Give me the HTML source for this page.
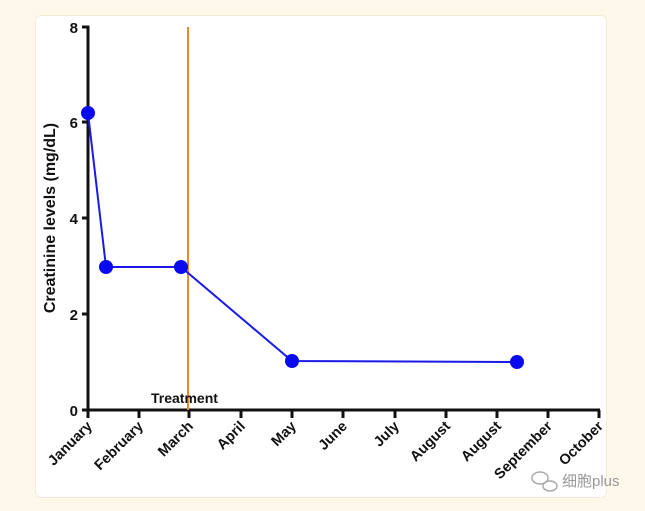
<!DOCTYPE html>
<html><head><style>
html,body{margin:0;padding:0;background:#fdf8ea;}
.card{position:absolute;left:35px;top:15px;width:570px;height:481px;background:#fff;border-radius:6px;border:1px solid #f5ecd8;}
svg{position:absolute;left:0;top:0;}
text{font-family:"Liberation Sans",Arial,sans-serif;font-weight:bold;fill:#111;}
</style></head><body>
<div class="card"></div>
<svg width="645" height="511" viewBox="0 0 645 511">
<g stroke="#111" stroke-width="3" fill="none">
<path d="M82 27H88V410H600"/>
<path d="M82 122H88M82 218H88M82 314H88M82 410H88"/>
<path d="M88 410v8M139 410v8M189 410v8M241 410v8M292 410v8M343 410v8M395 410v8M446 410v8M497 410v8M548 410v8M599 410v8"/>
</g>
<g font-size="15" text-anchor="end">
<text x="78" y="33">8</text><text x="78" y="128">6</text><text x="78" y="224">4</text><text x="78" y="320">2</text><text x="78" y="416">0</text>
</g>
<text transform="translate(55,218) rotate(-90)" font-size="16" text-anchor="middle">Creatinine levels (mg/dL)</text>
<line x1="188" y1="27" x2="188" y2="410" stroke="#e8892a" stroke-width="2"/>
<text x="151" y="403" font-size="14">Treatment</text>
<g font-size="14.5" text-anchor="end">
<text transform="translate(93,427) rotate(-45)">January</text>
<text transform="translate(144,427) rotate(-45)">February</text>
<text transform="translate(194,427) rotate(-45)">March</text>
<text transform="translate(246,427) rotate(-45)">April</text>
<text transform="translate(297,427) rotate(-45)">May</text>
<text transform="translate(348,427) rotate(-45)">June</text>
<text transform="translate(400,427) rotate(-45)">July</text>
<text transform="translate(451,427) rotate(-45)">August</text>
<text transform="translate(502,427) rotate(-45)">August</text>
<text transform="translate(553,427) rotate(-45)">September</text>
<text transform="translate(604,427) rotate(-45)">October</text>
</g>
<polyline points="88,113 106,267 181,267 292,361 517,362" fill="none" stroke="#1a1ae6" stroke-width="2"/>
<g fill="#0a0af0">
<circle cx="88" cy="113" r="7"/><circle cx="106" cy="267" r="7"/><circle cx="181" cy="267" r="7"/><circle cx="292" cy="361" r="7"/><circle cx="517" cy="362" r="7"/>
</g>
<g fill="none" stroke="#aaa" stroke-width="1.5">
<ellipse cx="540" cy="478" rx="8" ry="6"/><ellipse cx="550" cy="486" rx="7" ry="5"/>
</g>
<text x="562" y="486" font-size="15" style="font-weight:normal;fill:#999;font-family:'Liberation Sans','Noto Sans CJK SC',sans-serif">细胞plus</text>
</svg>
</body></html>
